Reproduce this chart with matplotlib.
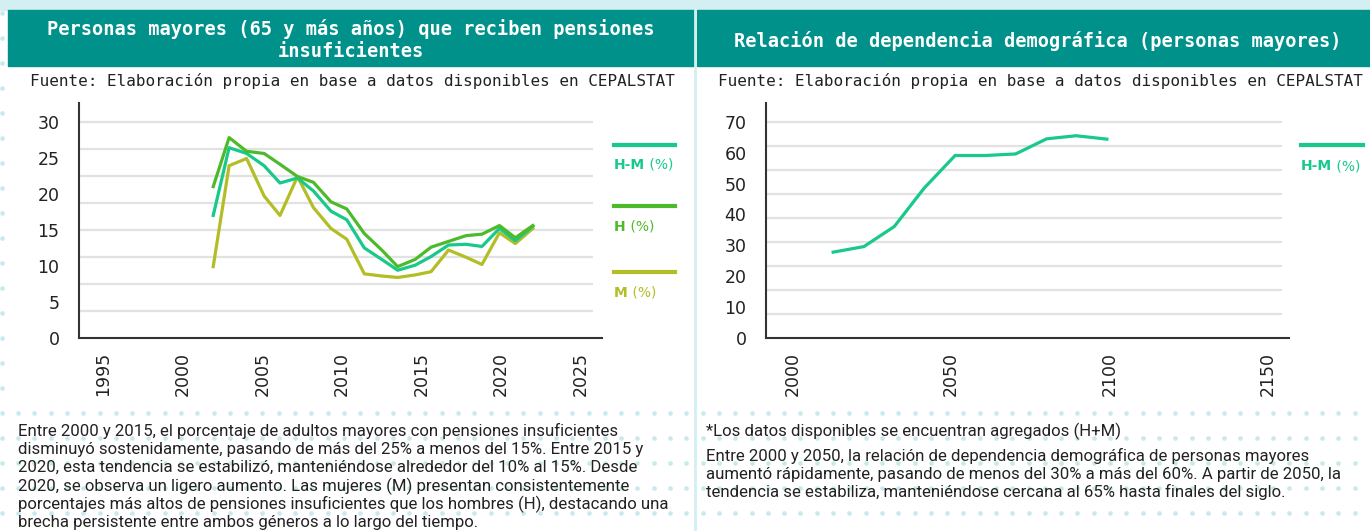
import numpy as np
import matplotlib
matplotlib.use("Agg")
import matplotlib.pyplot as plt
from matplotlib.patches import Rectangle
from matplotlib.lines import Line2D

# ---------------- data ----------------
left_years = [2001.9, 2002.9, 2004.0, 2005.1, 2006.1, 2007.2, 2008.2, 2009.3, 2010.3, 2011.4,
              2012.5, 2013.5, 2014.6, 2015.6, 2016.7, 2017.8, 2018.8, 2019.9, 2020.9, 2022.0]
hm_pct = [17.0, 26.4, 25.6, 23.9, 21.5, 22.2, 20.4, 17.6, 16.4, 12.5,
          10.9, 9.4, 10.1, 11.3, 12.9, 13.0, 12.7, 15.2, 13.5, 15.5]
h_pct = [21.0, 27.8, 25.9, 25.6, 24.1, 22.4, 21.6, 18.9, 17.9, 14.5,
         12.2, 9.9, 10.9, 12.6, 13.4, 14.2, 14.4, 15.6, 13.9, 15.6]
m_pct = [9.9, 23.9, 24.9, 19.7, 17.0, 22.4, 18.1, 15.2, 13.7, 8.9,
         8.6, 8.4, 8.75, 9.2, 12.2, 11.2, 10.2, 14.6, 13.1, 15.2]
left_xticks = [1995, 2000, 2005, 2010, 2015, 2020, 2025]
left_yticks = [0, 5, 10, 15, 20, 25, 30]

right_years = [2012.8, 2022.5, 2032.1, 2041.5, 2051.3, 2060.9, 2070.4, 2080.2, 2089.5, 2099.2]
dep_ratio = [27.8, 29.6, 36.1, 48.5, 59.1, 59.1, 59.6, 64.5, 65.5, 64.4]
right_xticks = [2000, 2050, 2100, 2150]
right_yticks = [0, 10, 20, 30, 40, 50, 60, 70]

series_labels = ["H-M", "H", "M"]

title_left = "Personas mayores (65 y más años) que reciben pensiones\ninsuficientes"
title_right = "Relación de dependencia demográfica (personas mayores)"
source_txt = "Fuente: Elaboración propia en base a datos disponibles en CEPALSTAT"
left_note = [
    "Entre 2000 y 2015, el porcentaje de adultos mayores con pensiones insuficientes",
    "disminuyó sostenidamente, pasando de más del 25% a menos del 15%. Entre 2015 y",
    "2020, esta tendencia se estabilizó, manteniéndose alrededor del 10% al 15%. Desde",
    "2020, se observa un ligero aumento. Las mujeres (M) presentan consistentemente",
    "porcentajes más altos de pensiones insuficientes que los hombres (H), destacando una",
    "brecha persistente entre ambos géneros a lo largo del tiempo.",
]
right_note_star = "*Los datos disponibles se encuentran agregados (H+M)"
right_note = [
    "Entre 2000 y 2050, la relación de dependencia demográfica de personas mayores",
    "aumentó rápidamente, pasando de menos del 30% a más del 60%. A partir de 2050, la",
    "tendencia se estabiliza, manteniéndose cercana al 65% hasta finales del siglo.",
]

# ---------------- style ----------------
C_HM = "#18c98a"
C_H = "#4dba2c"
C_M = "#b3bd25"
TEAL = "#00918b"
LIGHT = "#d3eff1"
DOT = "#c6eaed"
GRID = "#e2e2e2"
AX = "#333333"
TXT = "#222222"
NOTE_FS = 12.1

W, H = 1370, 531
fig = plt.figure(figsize=(W / 100, H / 100), dpi=100)
fig.patch.set_facecolor("white")

# background axes in pixel coordinates
bg = fig.add_axes([0, 0, 1, 1])
bg.set_xlim(0, W)
bg.set_ylim(H, 0)
bg.axis("off")
bg.set_zorder(0)

# dot pattern
dx = np.arange(1.7, W, 16.3)
dy = np.arange(13, H, 25)
gx, gy = np.meshgrid(dx, dy)
bg.scatter(gx.ravel(), gy.ravel(), s=11, color=DOT, linewidths=0, zorder=1)

# top strip
bg.add_patch(Rectangle((0, 0), W, 10, color=LIGHT, zorder=2))
# white panels
bg.add_patch(Rectangle((10, 66), 684, 340, color="white", zorder=2))
bg.add_patch(Rectangle((697, 66), W - 697, 340, color="white", zorder=2))
# headers
bg.add_patch(Rectangle((8, 10), 686, 56, color=TEAL, zorder=3))
bg.add_patch(Rectangle((697, 10), W - 697, 56, color=TEAL, zorder=3))
# divider
bg.add_line(Line2D([695.5, 695.5], [10, H], color=LIGHT, lw=2, zorder=4))

# header titles
bg.text(351, 40, title_left, ha="center", va="center", color="white",
        fontsize=13.4, fontweight="bold", family="DejaVu Sans Mono",
        linespacing=1.2, zorder=5)
bg.text(1038, 41, title_right, ha="center", va="center", color="white",
        fontsize=13.4, fontweight="bold", family="DejaVu Sans Mono", zorder=5)

# source lines
for x0 in (30, 718):
    bg.text(x0, 81, source_txt, ha="left", va="center", color=TXT,
            fontsize=11.5, family="DejaVu Sans Mono", zorder=5)

# notes
for i, line in enumerate(left_note):
    bg.text(18, 431 + i * 18.4, line, ha="left", va="center", color=TXT,
            fontsize=NOTE_FS, family="Roboto", zorder=5)
bg.text(706, 431, right_note_star, ha="left", va="center", color=TXT,
        fontsize=NOTE_FS, family="Roboto", zorder=5)
for i, line in enumerate(right_note):
    bg.text(706, 456 + i * 18.2, line, ha="left", va="center", color=TXT,
            fontsize=NOTE_FS, family="Roboto", zorder=5)


def style_axes(ax, ylim_top, n_grid_int, y_top, grid_frac):
    ax.set_facecolor("none")
    for s in ("top", "right"):
        ax.spines[s].set_visible(False)
    for s in ("left", "bottom"):
        ax.spines[s].set_color(AX)
        ax.spines[s].set_linewidth(1.5)
    ax.tick_params(length=0, labelsize=12.5, colors=TXT)
    ax.tick_params(axis="y", pad=14)
    ax.tick_params(axis="x", pad=10, labelrotation=90)
    gl = np.linspace(0, y_top, n_grid_int + 1)[1:]
    ax.hlines(gl, 0, grid_frac, transform=ax.get_yaxis_transform(),
              color=GRID, lw=1.6, zorder=1)
    ax.set_ylim(0, ylim_top)


def fig_rect(l, r, t, b):
    return [l / W, 1 - b / H, (r - l) / W, (b - t) / H]


# ---------------- left chart ----------------
axl = fig.add_axes(fig_rect(79, 601.7, 103, 338))
axl.set_zorder(3)
style_axes(axl, 32.6, 8, 30, 0.984)
axl.set_xlim(1993.46, 2026.33)
axl.set_xticks(left_xticks)
axl.set_yticks(left_yticks)
axl.plot(left_years, hm_pct, color=C_HM, lw=2.3, zorder=3)
axl.plot(left_years, h_pct, color=C_H, lw=2.3, zorder=3)
axl.plot(left_years, m_pct, color=C_M, lw=2.3, zorder=2)

# ---------------- right chart ----------------
axr = fig.add_axes(fig_rect(766, 1289.3, 103, 338))
axr.set_zorder(3)
style_axes(axr, 76.1, 9, 70, 0.9855)
axr.set_xlim(1991.6, 2156.8)
axr.set_xticks(right_xticks)
axr.set_yticks(right_yticks)
axr.plot(right_years, dep_ratio, color=C_HM, lw=2.3, zorder=3)

# ---------------- legends ----------------
def legend_item(x0, x1, y_line, y_text, color, label):
    bg.add_line(Line2D([x0, x1], [y_line, y_line], color=color, lw=3, zorder=6))
    t = bg.text(x0, y_text, label, ha="left", va="center", color=color,
                fontsize=10, fontweight="bold", family="DejaVu Sans", zorder=6)
    bg.annotate(" (%)", xy=(1, 0.5), xycoords=t, ha="left", va="center",
                color=color, fontsize=10, family="DejaVu Sans", zorder=6)


legend_item(614, 675, 145, 165, C_HM, series_labels[0])
legend_item(614, 675, 206, 227, C_H, series_labels[1])
legend_item(614, 675, 272, 293, C_M, series_labels[2])
legend_item(1301, 1363, 145, 166, C_HM, series_labels[0])

fig.savefig("out.png", dpi=100)
